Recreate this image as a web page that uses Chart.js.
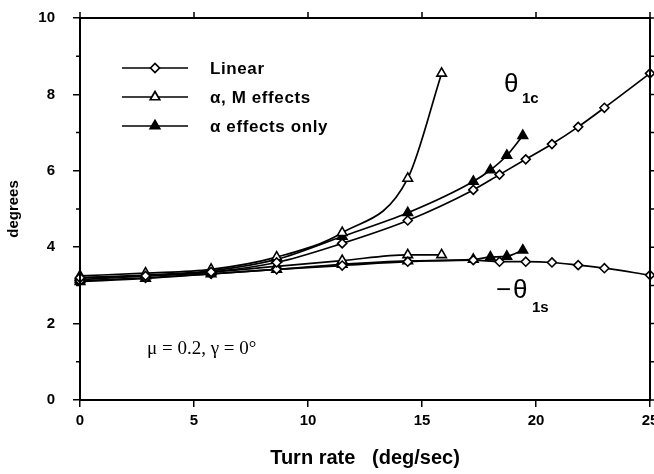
<!DOCTYPE html>
<html><head><meta charset="utf-8">
<script src="https://cdn.jsdelivr.net/npm/chart.js@4/dist/chart.umd.min.js"></script>
<style>html,body{margin:0;padding:0;background:#fff;}#wrap{width:654px;height:474px;}</style>
</head><body><div id="wrap"><canvas id="c" width="654" height="474"></canvas></div>
<script>
// ---- data ----
const turnLinear = [0, 2.875, 5.75, 8.625, 11.5, 14.375, 17.25, 18.4, 19.55, 20.7, 21.85, 23.0, 25];
const linearTheta1c = [3.2, 3.25, 3.35, 3.6, 4.1, 4.7, 5.5, 5.9, 6.3, 6.7, 7.15, 7.65, 8.55];
const linearTheta1s = [3.12, 3.2, 3.3, 3.42, 3.52, 3.62, 3.66, 3.62, 3.62, 3.6, 3.53, 3.45, 3.27];
const turnAlphaM = [0, 2.875, 5.75, 8.625, 11.5, 14.375, 15.86];
const alphaMTheta1c = [3.25, 3.32, 3.42, 3.74, 4.38, 5.8, 8.55];
const alphaMTheta1s = [3.15, 3.25, 3.35, 3.5, 3.65, 3.8, 3.8];
const turnAlpha = [0, 2.875, 5.75, 8.625, 11.5, 14.375, 17.25, 18.0, 18.72, 19.42];
const alphaTheta1c = [3.2, 3.27, 3.38, 3.68, 4.28, 4.9, 5.72, 6.02, 6.4, 6.92];
const alphaTheta1s = [3.1, 3.18, 3.3, 3.42, 3.55, 3.64, 3.68, 3.74, 3.76, 3.92];
const xTicks = [0, 5, 10, 15, 20, 25];
const yTicks = [0, 2, 4, 6, 8, 10];
const legendNames = ['Linear', 'α, M effects', 'α effects only'];

const pts = (xs, ys) => xs.map((x, i) => ({x, y: ys[i]}));
const styleFor = k => {
  if (k === 0) return {pointStyle: 'rectRot', pointRadius: 4.5, pointBackgroundColor: '#fff'};
  if (k === 1) return {pointStyle: 'triangle', pointRadius: 5.5, pointBackgroundColor: '#fff'};
  return {pointStyle: 'triangle', pointRadius: 5.5, pointBackgroundColor: '#000'};
};
const mk = (label, data, k) => Object.assign({
  label, data, borderColor: '#000', borderWidth: 1.7, pointBorderColor: '#000',
  pointBorderWidth: 1.6, cubicInterpolationMode: 'monotone', showLine: true, fill: false, clip: 8
}, styleFor(k));

const datasets = [
  mk(legendNames[0], pts(turnLinear, linearTheta1c), 0),
  mk(legendNames[0] + ' s', pts(turnLinear, linearTheta1s), 0),
  mk(legendNames[1], pts(turnAlphaM, alphaMTheta1c), 1),
  mk(legendNames[1] + ' s', pts(turnAlphaM, alphaMTheta1s), 1),
  mk(legendNames[2], pts(turnAlpha, alphaTheta1c), 2),
  mk(legendNames[2] + ' s', pts(turnAlpha, alphaTheta1s), 2),
];

const FONT = '"Liberation Sans", Arial, sans-serif';

const decor = {
  id: 'decor',
  afterDatasetsDraw(chart) {
    const {ctx, chartArea: a, scales: {x, y}} = chart;
    ctx.save();
    ctx.strokeStyle = '#000';
    ctx.lineWidth = 2;
    ctx.strokeRect(a.left, a.top, a.right - a.left, a.bottom - a.top);
    ctx.lineWidth = 1.5;
    ctx.beginPath();
    for (let v = 0; v <= 25; v += 5) {
      const px = x.getPixelForValue(v);
      ctx.moveTo(px, a.top); ctx.lineTo(px, a.top - 6);
    }
    for (let v = 0; v <= 10; v += 1) {
      const py = y.getPixelForValue(v);
      const len = v % 2 === 0 ? 6 : 4;
      ctx.moveTo(a.right, py); ctx.lineTo(a.right + len, py);
      if (v % 2 === 1) { ctx.moveTo(a.left, py); ctx.lineTo(a.left - 4, py); }
    }
    ctx.stroke();
    // legend
    const rows = [68, 97, 126];
    ctx.textBaseline = 'middle';
    for (let k = 0; k < 3; k++) {
      const ds = datasets[k * 2];
      const ry = rows[k];
      ctx.lineWidth = 1.7;
      ctx.beginPath(); ctx.moveTo(122, ry); ctx.lineTo(188, ry); ctx.stroke();
      ctx.fillStyle = ds.pointBackgroundColor;
      Chart.helpers.drawPoint(ctx, {pointStyle: ds.pointStyle, radius: ds.pointRadius, borderWidth: 1.6, rotation: 0}, 155, ry);
      ctx.fillStyle = '#000';
      ctx.font = 'bold 17px ' + FONT;
      ctx.letterSpacing = '0.6px';
      ctx.fillText(legendNames[k], 210, ry + 1);
      ctx.letterSpacing = '0px';
    }
    // curve labels
    ctx.fillStyle = '#000';
    ctx.font = '26px ' + FONT;
    ctx.fillText('θ', 504, 85);
    ctx.font = 'bold 15px ' + FONT;
    ctx.fillText('1c', 522, 99);
    ctx.font = '26px ' + FONT;
    ctx.fillText('−', 496, 291);
    ctx.fillText('θ', 513, 291);
    ctx.font = 'bold 15px ' + FONT;
    ctx.fillText('1s', 532, 308);
    ctx.font = '19px "Liberation Serif", "Times New Roman", serif';
    ctx.fillText('μ = 0.2, γ = 0°', 147, 349);
    ctx.restore();
  }
};

new Chart(document.getElementById('c'), {
  type: 'scatter',
  data: {datasets},
  options: {
    responsive: false, animation: false,
    layout: {autoPadding: false, padding: {top: 18, right: 4, left: 0, bottom: 0}},
    plugins: {legend: {display: false}, tooltip: {enabled: false}},
    scales: {
      x: {
        type: 'linear', min: 0, max: 25,
        afterBuildTicks: s => { s.ticks = xTicks.map(v => ({value: v})); },
        afterFit: s => { s.height = 74; s.paddingLeft = 0; s.paddingRight = 0; },
        grid: {drawOnChartArea: false, tickLength: 7, color: '#000', lineWidth: 1.5},
        border: {color: '#000', width: 2},
        ticks: {color: '#000', font: {family: FONT, size: 15, weight: 'bold'}, padding: 5, maxRotation: 0},
        title: {display: true, text: 'Turn rate\u00a0\u00a0\u00a0(deg/sec)', color: '#000', font: {family: FONT, size: 20, weight: 'bold'}, padding: {top: 2}}
      },
      y: {
        type: 'linear', min: 0, max: 10,
        afterBuildTicks: s => { s.ticks = yTicks.map(v => ({value: v})); },
        afterFit: s => { s.width = 80; s.paddingTop = 0; s.paddingBottom = 0; },
        grid: {drawOnChartArea: false, tickLength: 7, color: '#000', lineWidth: 1.5},
        border: {color: '#000', width: 2},
        ticks: {color: '#000', font: {family: FONT, size: 15, weight: 'bold'}, padding: 18},
        title: {display: true, text: 'degrees', color: '#000', font: {family: FONT, size: 15, weight: 'bold'}, padding: {top: 5, bottom: 0}}
      }
    }
  },
  plugins: [decor]
});
</script></body></html>
